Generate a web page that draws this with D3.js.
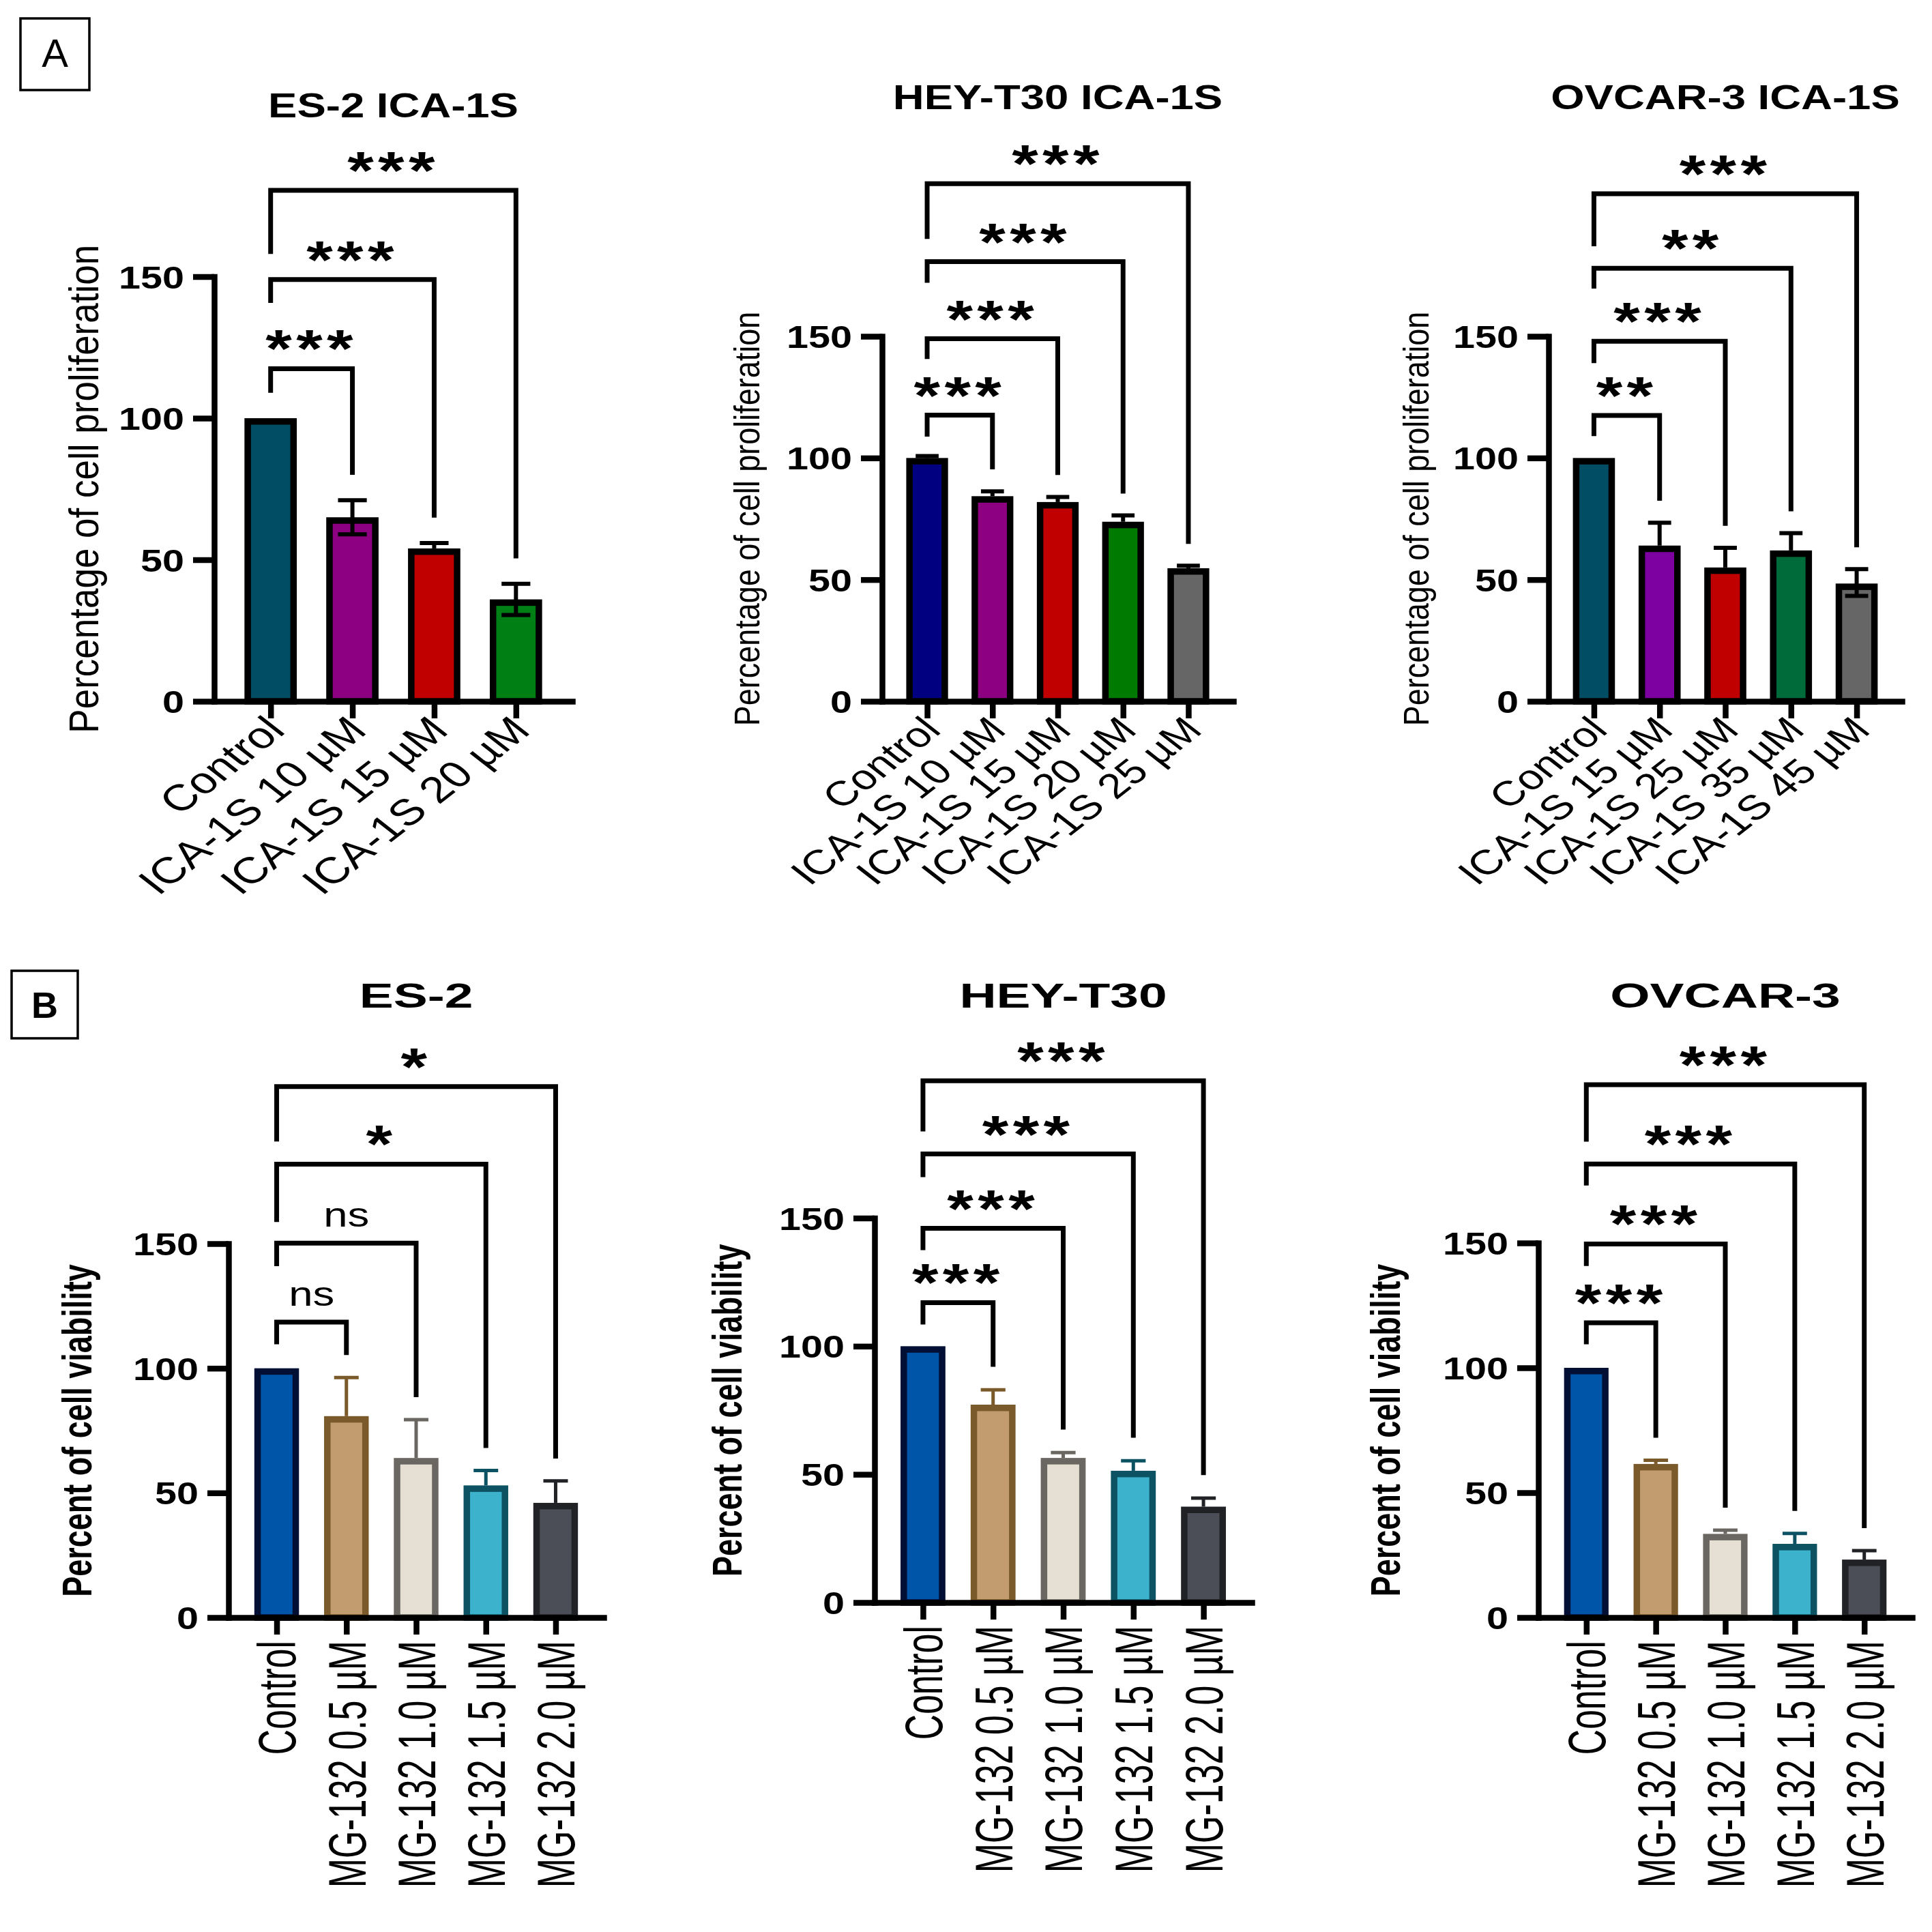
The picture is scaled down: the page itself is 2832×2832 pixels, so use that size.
<!DOCTYPE html>
<html>
<head>
<meta charset="utf-8">
<script src="https://cdn.jsdelivr.net/npm/d3@7"></script>
<style>
	body { margin: 0; background: #fff; }
</style>
</head>
<body>
<svg id="fig" width="2832" height="2832"></svg>
<script>
// ---------- data ----------
const yTicks = [0, 50, 100, 150]

const icaEs2Cats = ['Control', 'ICA-1S 10 µM', 'ICA-1S 15 µM', 'ICA-1S 20 µM']
const icaEs2Mean = [100, 65, 54, 36]
const icaEs2Err = [0, 6, 1.9, 5.5]
const icaEs2ErrLo = [0, 6, 0, 5.5]
const icaEs2Sig = ['***', '***', '***']
const icaEs2Level = [117.5, 149, 180.5]
const icaEs2LegL = [109, 140.7, 158]

const icaHeyCats = ['Control', 'ICA-1S 10 µM', 'ICA-1S 15 µM', 'ICA-1S 20 µM', 'ICA-1S 25 µM']
const icaHeyMean = [100, 84.3, 81.9, 73.8, 54.7]
const icaHeyErr = [0.8, 2, 2.1, 2.6, 1]
const icaHeyErrLo = [0, 0, 0, 0, 0]
const icaHeySig = ['***', '***', '***', '***']
const icaHeyLevel = [117.6, 149, 180.7, 212.7]
const icaHeyLegL = [108.8, 140.7, 172, 190]

const icaOvcCats = ['Control', 'ICA-1S 15 µM', 'ICA-1S 25 µM', 'ICA-1S 35 µM', 'ICA-1S 45 µM']
const icaOvcMean = [100, 64, 55, 62, 48.4]
const icaOvcErr = [0, 9.4, 8.1, 7.1, 5.9]
const icaOvcErrLo = [0, 0, 0, 0, 5.1]
const icaOvcSig = ['**', '***', '**', '***']
const icaOvcLevel = [117.5, 148, 178, 208.6]
const icaOvcLegL = [109, 139, 169.6, 187]

const mgCats = ['Control', 'MG-132 0.5 µM', 'MG-132 1.0 µM', 'MG-132 1.5 µM', 'MG-132 2.0 µM']

const mgEs2Mean = [100, 80.8, 64, 53, 46]
const mgEs2Err = [0, 15.5, 15.4, 6, 8.8]
const mgEs2Sig = ['ns', 'ns', '*', '*']
const mgEs2Level = [118.5, 150.2, 181.9, 213]
const mgEs2LegL = [109.6, 141, 158.7, 191]

const mgHeyMean = [100, 77.2, 56.4, 51.4, 37.4]
const mgHeyErr = [0, 5.8, 2.1, 3.9, 3.3]
const mgHeySig = ['***', '***', '***', '***']
const mgHeyLevel = [117, 146, 175, 203.6]
const mgHeyLegL = [108.5, 137.5, 166, 183.8]

const mgOvcMean = [100, 61.5, 33.5, 29.5, 23.2]
const mgOvcErr = [0, 1.5, 1.5, 4.2, 3.6]
const mgOvcSig = ['***', '***', '***', '***']
const mgOvcLevel = [118, 149.6, 181.6, 213.4]
const mgOvcLegL = [109.4, 140.8, 173, 190.6]

const noLo = [0, 0, 0, 0, 0]

// ---------- colours ----------
const es2IcaFill = ['#004d64', '#8e0082', '#c00000', '#007f14']
const heyIcaFill = ['#000080', '#8e0082', '#c00000', '#007a00', '#666666']
const ovcIcaFill = ['#004d64', '#7d00a0', '#c00000', '#006b3a', '#666666']
const blackLine = ['#000', '#000', '#000', '#000', '#000']
const mgFill = ['#0055a8', '#c29c6e', '#e6e0d4', '#3cb2cc', '#4b4e56']
const mgLine = ['#000f33', '#7a5a2a', '#6a6661', '#0c5262', '#202226']

const FONT = '"Liberation Sans", Arial, Helvetica, sans-serif'
const svg = d3.select('#fig')

// ---------- layout ----------
const rowA = {
	rot: -45, xlabK: 1.28, xlabDx: 6, xlabDy: 32, xlabWeight: 'normal',
	ylabWeight: 'normal', ylabK: 1.15, yLabel: 'Percentage of cell proliferation',
	titleK: 1.27, errW: 6, errColor: null
}
const rowB = {
	rot: -90, xlabK: 1.5, xlabFont: 52, xlabDx: 0, xlabDy: 34, xlabWeight: 'normal',
	ylabWeight: 'bold', ylabK: 1.37, ylabFont: 45, yLabel: 'Percent of cell viability',
	titleK: 1.5, titleY: 1477, errW: 5
}

let barPanel = function(d, L) {
	let g = svg.append('g')

	let y = d3.scaleLinear().domain([0, 150]).range([L.y0, L.y150])
	let x = d3.scalePoint().domain(d.cats).range([L.x0, L.x1]).padding(0.69)
	let bw = x.step() * 0.64
	let sw = 9.5

	// bars
	g.append('g').selectAll('rect').data(d.cats).join('rect')
		.attr('x', c => x(c) - bw/2 + sw/2)
		.attr('width', bw - sw)
		.attr('y', (c, i) => y(d.mean[i]) + sw/2)
		.attr('height', (c, i) => y(0) - y(d.mean[i]) - sw/2)
		.attr('fill', (c, i) => d.fill[i])
		.attr('stroke', (c, i) => d.line[i])
		.attr('stroke-width', sw)

	// error bars
	let cw = bw * 0.55
	let eg = g.append('g')
	d.cats.forEach((c, i) => {
		if (!d.err[i]) return
		let col = L.errColor === null ? '#000' : d.line[i]
		let top = y(d.mean[i] + d.err[i])
		let bot = d.errLo[i] ? y(d.mean[i] - d.errLo[i]) : y(d.mean[i])
		eg.append('line')
			.attr('x1', x(c)).attr('x2', x(c))
			.attr('y1', bot).attr('y2', top)
			.attr('stroke', col).attr('stroke-width', L.errW)
		eg.append('line')
			.attr('x1', x(c) - cw/2).attr('x2', x(c) + cw/2)
			.attr('y1', top).attr('y2', top)
			.attr('stroke', col).attr('stroke-width', L.errW)
		if (d.errLo[i]) {
			eg.append('line')
				.attr('x1', x(c) - cw/2).attr('x2', x(c) + cw/2)
				.attr('y1', bot).attr('y2', bot)
				.attr('stroke', col).attr('stroke-width', L.errW)
		}
	})

	// y axis
	let ya = g.append('g')
		.attr('transform', `translate(${L.x0},0)`)
		.call(d3.axisLeft(y).tickValues(yTicks).tickSize(31).tickSizeOuter(0))
	ya.attr('font-family', FONT).attr('font-size', 46).attr('font-weight', 'bold')
	ya.select('.domain').attr('stroke-width', 8.5).attr('stroke-linecap', 'square')
	ya.selectAll('.tick line').attr('stroke-width', 8.5)
	ya.selectAll('.tick text')
		.attr('x', 0).attr('dy', '0.36em').attr('fill', '#000')
		.attr('transform', 'translate(-44,0) scale(1.25,1)')

	// x axis
	let xa = g.append('g')
		.attr('transform', `translate(0,${L.y0})`)
		.call(d3.axisBottom(x).tickSize(25).tickSizeOuter(0))
	xa.attr('font-family', FONT).attr('font-size', L.xlabFont).attr('font-weight', L.xlabWeight)
	xa.select('.domain').attr('stroke-width', 8.5).attr('stroke-linecap', 'square')
	xa.selectAll('.tick line').attr('stroke-width', 8.5)
	xa.selectAll('.tick text')
		.attr('y', 0).attr('dy', '0.35em').attr('fill', '#000')
		.attr('text-anchor', 'end')
		.attr('transform', `translate(${L.xlabDx},${L.xlabDy}) scale(${L.xlabK},1) rotate(${L.rot})`)

	// significance brackets
	let bg = g.append('g')
	d.sig.forEach((s, i) => {
		let a = x(d.cats[0]), b = x(d.cats[i+1])
		let lv = y(d.level[i])
		let yl = y(d.legL[i])
		let yr = y(d.mean[i+1] + d.err[i+1] + 9)
		bg.append('path')
			.attr('d', `M${a},${yl}V${lv}H${b}V${yr}`)
			.attr('fill', 'none').attr('stroke', '#000').attr('stroke-width', 7)
		let isStar = s !== 'ns'
		bg.append('text')
			.attr('transform', `translate(${(a + b)/2},${isStar ? lv - 2 : lv - 24}) scale(1.27,1)`)
			.attr('text-anchor', 'middle')
			.attr('font-family', FONT)
			.attr('font-size', isStar ? 78 : 50)
			.attr('font-weight', isStar ? 'bold' : 'normal')
			.attr('letter-spacing', isStar ? 5 : 0)
			.text(s)
	})

	// title
	g.append('text')
		.attr('transform', `translate(${(L.x0 + L.x1)/2},${L.titleY}) scale(${L.titleK},1)`)
		.attr('text-anchor', 'middle')
		.attr('font-family', FONT).attr('font-size', 50).attr('font-weight', 'bold')
		.text(d.title)

	// y label
	g.append('text')
		.attr('transform', `translate(${L.ylabX},${(L.y0 + L.y150)/2}) scale(${L.ylabK},1) rotate(-90)`)
		.attr('text-anchor', 'middle').attr('dy', '0.25em')
		.attr('font-family', FONT).attr('font-size', L.ylabFont).attr('font-weight', L.ylabWeight)
		.text(L.yLabel)
}

let panelTag = function(label, bx, by, w, h, weight, size, ty) {
	svg.append('rect')
		.attr('x', bx).attr('y', by).attr('width', w).attr('height', h)
		.attr('fill', 'none').attr('stroke', '#000').attr('stroke-width', 3.5)
	svg.append('text')
		.attr('x', bx + w/2).attr('y', ty)
		.attr('text-anchor', 'middle')
		.attr('font-family', FONT).attr('font-size', size).attr('font-weight', weight)
		.text(label)
}

// ---------- draw ----------
panelTag('A', 30, 27, 101, 105, 'normal', 58, 98)
panelTag('B', 17, 1423, 97, 99, 'bold', 54, 1492)

barPanel(
	{cats: icaEs2Cats, mean: icaEs2Mean, err: icaEs2Err, errLo: icaEs2ErrLo, sig: icaEs2Sig,
	 level: icaEs2Level, legL: icaEs2LegL, fill: es2IcaFill, line: blackLine, title: 'ES-2 ICA-1S'},
	{...rowA, x0: 314, x1: 839, y0: 1028, y150: 405.5, titleY: 172, xlabFont: 54, ylabFont: 53, ylabX: 129})

barPanel(
	{cats: icaHeyCats, mean: icaHeyMean, err: icaHeyErr, errLo: icaHeyErrLo, sig: icaHeySig,
	 level: icaHeyLevel, legL: icaHeyLegL, fill: heyIcaFill, line: blackLine, title: 'HEY-T30 ICA-1S'},
	{...rowA, x0: 1293, x1: 1808, y0: 1028, y150: 493, titleY: 160, xlabFont: 51, ylabFont: 45, ylabX: 1100})

barPanel(
	{cats: icaOvcCats, mean: icaOvcMean, err: icaOvcErr, errLo: icaOvcErrLo, sig: icaOvcSig,
	 level: icaOvcLevel, legL: icaOvcLegL, fill: ovcIcaFill, line: blackLine, title: 'OVCAR-3 ICA-1S'},
	{...rowA, x0: 2270, x1: 2788, y0: 1028, y150: 493, titleY: 160, xlabFont: 51, ylabFont: 45, ylabX: 2081})

barPanel(
	{cats: mgCats, mean: mgEs2Mean, err: mgEs2Err, errLo: noLo, sig: mgEs2Sig,
	 level: mgEs2Level, legL: mgEs2LegL, fill: mgFill, line: mgLine, title: 'ES-2'},
	{...rowB, x0: 335, x1: 885, y0: 2371, y150: 1823, ylabX: 119})

barPanel(
	{cats: mgCats, mean: mgHeyMean, err: mgHeyErr, errLo: noLo, sig: mgHeySig,
	 level: mgHeyLevel, legL: mgHeyLegL, fill: mgFill, line: mgLine, title: 'HEY-T30'},
	{...rowB, x0: 1282, x1: 1835, y0: 2349, y150: 1785.5, ylabX: 1072})

barPanel(
	{cats: mgCats, mean: mgOvcMean, err: mgOvcErr, errLo: noLo, sig: mgOvcSig,
	 level: mgOvcLevel, legL: mgOvcLegL, fill: mgFill, line: mgLine, title: 'OVCAR-3'},
	{...rowB, x0: 2255, x1: 2803, y0: 2371, y150: 1822, ylabX: 2037})
</script>
</body>
</html>
